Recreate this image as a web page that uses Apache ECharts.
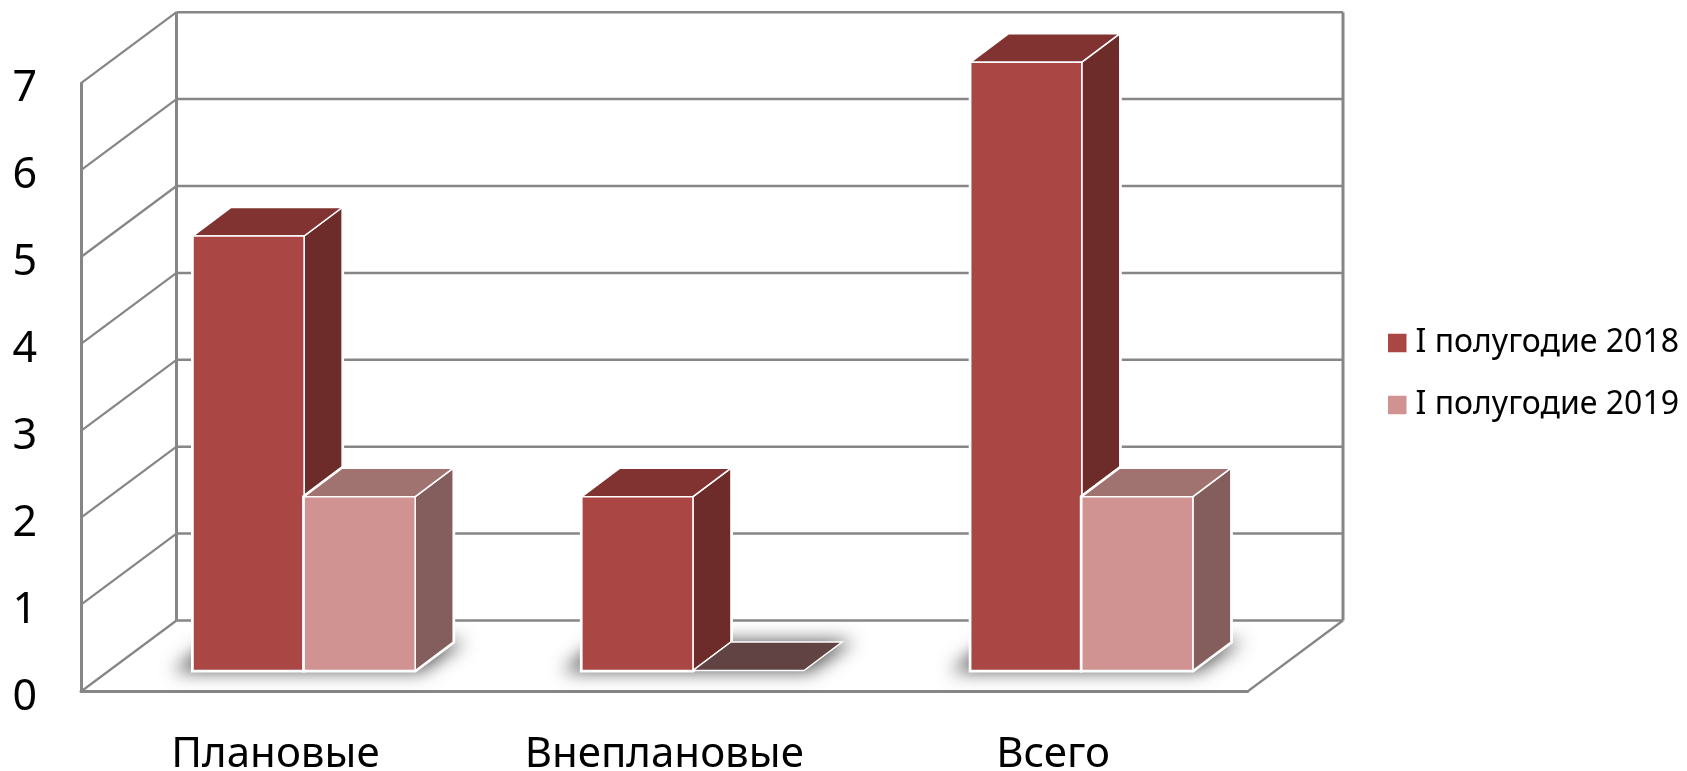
<!DOCTYPE html>
<html><head><meta charset="utf-8">
<style>html,body{margin:0;padding:0;background:#fff}#c{width:1687px;height:771px}</style>
<script src="https://cdn.jsdelivr.net/npm/echarts@6/dist/echarts.min.js"></script>
</head><body><div id="c"></div>
<script>
const categories = ['Плановые', 'Внеплановые', 'Всего'];
const seriesNames = ['I полугодие 2018', 'I полугодие 2019'];
const values2018 = [5, 2, 7];
const values2019 = [2, 0, 2];
const yTicks = [0, 1, 2, 3, 4, 5, 6, 7];

const FONT = '"Noto Sans"';
const GRID = '#868686';
const WALL_DX = 95.5, WALL_DY = 71;
const BAR_OX = 28.7, BAR_OY = 21, BAR_DX = 38, BAR_DY = 28.5, BAR_RATIO = 0.2857;
const FAR = 4000;

function line(x1, y1, x2, y2, w) {
  return {type: 'line', shape: {x1, y1, x2, y2}, style: {stroke: GRID, lineWidth: w, fill: null}, silent: true};
}
function poly(points, fill, stroke, lw) {
  return {type: 'polygon', shape: {points}, style: {fill, stroke: stroke || '#fff', lineWidth: lw == null ? 1.5 : lw, lineJoin: 'miter'}, silent: true};
}
function renderWall(params, api) {
  const v = api.value(0), cs = params.coordSys;
  const L = cs.x, R = cs.x + cs.width, y = api.coord([0, v])[1];
  const kids = [
    line(L + WALL_DX, y - WALL_DY, R + WALL_DX, y - WALL_DY, 2.5),
    line(L, y, L + WALL_DX, y - WALL_DY, 2.2)
  ];
  if (v === yTicks[0]) kids.push(line(R, y, R + WALL_DX, y - WALL_DY, 2.2));
  if (v === yTicks[yTicks.length - 1]) {
    const y0 = api.coord([0, 0])[1] - WALL_DY;
    kids.push(line(L + WALL_DX, y - WALL_DY, L + WALL_DX, y0, 3));
    kids.push(line(R + WALL_DX, y - WALL_DY, R + WALL_DX, y0, 3));
  }
  return {type: 'group', children: kids};
}
function renderShadow(params, api) {
  const p = api.coord([api.value(0), 0]);
  const w = api.size([1, 0])[0] * BAR_RATIO;
  const j = p[0] + BAR_OX, b = p[1] - BAR_OY;
  const pts = [[j - w - 20 - FAR, b + 1], [j + w + 6 - FAR, b + 1], [j + w + BAR_DX + 12 - FAR, b - BAR_DY - 1], [j - w + BAR_DX - 20 - FAR, b - BAR_DY - 1]];
  return {type: 'polygon', shape: {points: pts}, silent: true,
    style: {fill: '#555', shadowColor: 'rgba(85,85,85,1)', shadowBlur: 18, shadowOffsetX: FAR, shadowOffsetY: 0}};
}
function barRenderer(side, front, top, right) {
  return function (params, api) {
    const i = api.value(0), v = api.value(1);
    const p = api.coord([i, v]), p0 = api.coord([i, 0]);
    const w = api.size([1, 0])[0] * BAR_RATIO;
    const j = p[0] + BAR_OX;
    const x0 = side === 0 ? j - w : j, x1 = x0 + w;
    const yb = p0[1] - BAR_OY, yt = p[1] - BAR_OY;
    if (v === 0) {
      return poly([[x0, yb], [x1, yb], [x1 + BAR_DX, yb - BAR_DY], [x0 + BAR_DX, yb - BAR_DY]], '#604342');
    }
    const sil = [[x0, yb], [x1, yb], [x1 + BAR_DX, yb - BAR_DY], [x1 + BAR_DX, yt - BAR_DY], [x0 + BAR_DX, yt - BAR_DY], [x0, yt]];
    return {type: 'group', children: [
      poly(sil, '#fff', '#fff', 4),
      poly([[x1, yb], [x1 + BAR_DX, yb - BAR_DY], [x1 + BAR_DX, yt - BAR_DY], [x1, yt]], right),
      poly([[x0, yt], [x1, yt], [x1 + BAR_DX, yt - BAR_DY], [x0 + BAR_DX, yt - BAR_DY]], top),
      poly([[x0, yb], [x1, yb], [x1, yt], [x0, yt]], front)
    ]};
  };
}
const chart = echarts.init(document.getElementById('c'), null, {renderer: 'canvas'});
chart.setOption({
  animation: false,
  backgroundColor: '#fff',
  textStyle: {fontFamily: FONT},
  grid: {left: 81, right: 439.5, top: 83.2, bottom: 79.5, containLabel: false, outerBoundsMode: 'none'},
  legend: {
    orient: 'vertical', left: 1383, top: 322, icon: 'rect', itemWidth: 18.5, itemHeight: 18.5,
    itemGap: 30, data: seriesNames, selectedMode: false,
    itemStyle: {borderWidth: 0},
    textStyle: {fontFamily: FONT, fontSize: 32, color: '#000', padding: [0, 0, 0, 4]}
  },
  xAxis: {
    type: 'category', data: categories,
    axisLine: {show: true, lineStyle: {color: GRID, width: 3}},
    axisTick: {show: false},
    axisLabel: {fontFamily: FONT, fontSize: 42, color: '#000', margin: 43, interval: 0}
  },
  yAxis: {
    type: 'value', min: 0, max: 7, interval: 1,
    splitLine: {show: false},
    axisLine: {show: true, lineStyle: {color: GRID, width: 3}},
    axisTick: {show: false},
    axisLabel: {fontFamily: FONT, fontSize: 43, color: '#000', margin: 44, verticalAlign: 'top', lineHeight: 12}
  },
  series: [
    {type: 'custom', silent: true, data: yTicks.map(v => [v]), encode: {y: 0}, renderItem: renderWall, z: 1, legendHoverLink: false},
    {type: 'custom', silent: true, data: categories.map((c, i) => [i]), encode: {x: 0}, renderItem: renderShadow, z: 2},
    {type: 'custom', name: seriesNames[0], itemStyle: {color: '#AA4643'}, z: 3,
      data: values2018.map((v, i) => [i, v]), encode: {x: 0, y: 1},
      renderItem: barRenderer(0, '#AA4643', '#803331', '#6D2B29')},
    {type: 'custom', name: seriesNames[1], itemStyle: {color: '#D19392'}, z: 4,
      data: values2019.map((v, i) => [i, v]), encode: {x: 0, y: 1},
      renderItem: barRenderer(1, '#D19392', '#A07270', '#845E5C')}
  ]
});
</script></body></html>
